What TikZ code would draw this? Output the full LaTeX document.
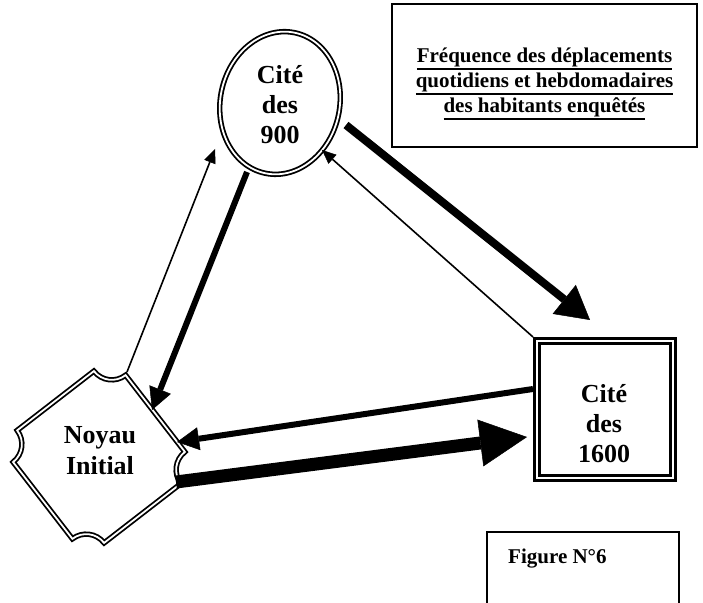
\documentclass[tikz,border=0pt]{standalone}
\usepackage{fontspec}
\setmainfont{Liberation Serif}
\usetikzlibrary{arrows.meta}
\newcommand\myuline[1]{\setbox0\hbox{#1}\rlap{\rule[-6.6pt]{\wd0}{2pt}}\box0}
\begin{document}
\begin{tikzpicture}[x=1pt,y=1pt,
  dbl/.style={draw, double, line width=1.8pt, double distance=1.8pt},
  dblbox/.style={draw, double, line width=2.6pt, double distance=2.4pt, inner sep=0pt},
  boxline/.style={draw, line width=1.5pt},
  lbl/.style={inner sep=0pt, anchor=base},
  bigfont/.style={font=\fontsize{26}{30}\selectfont\bfseries},
  smallfont/.style={font=\fontsize{21}{25}\selectfont\bfseries},
  thinarrow/.style={line width=1.6pt, -{Triangle[length=14pt,width=12pt,line width=0.5pt]}},
  medarrow/.style={line width=6pt, -{Triangle[length=22pt,width=23pt,line width=0.5pt]}},
  thickarrow/.style={line width=8pt, -{Triangle[length=33pt,width=37pt,line width=0.5pt]}},
  hugearrow/.style={line width=13pt, -{Triangle[length=47pt,width=47pt,line width=0.5pt]}}
]
\clip (0,0) rectangle (703,602);

% title box
\draw[boxline] (392,455) rectangle (697,598);
\node[lbl, smallfont] (title) at (544.5,539) {\begin{tabular}[t]{@{}c@{}}\myuline{Fréquence des déplacements}\\\myuline{quotidiens et hebdomadaires}\\\myuline{des habitants enquêtés}\end{tabular}};

% figure box
\draw[boxline] (487,-5) -- (487,70) -- (679,70) -- (679,-5);
\node[lbl, smallfont, anchor=base west] (fig) at (508,38.7) {Figure N°6};

% Cite des 900
\coordinate (e900) at (280,499);
\draw[dbl, rotate around={-12:(e900)}] (e900) ellipse [x radius=59.7, y radius=71.8];
\node[lbl, bigfont] (t900) at (280,518.7) {\begin{tabular}[t]{@{}c@{}}Cité\\des\\900\end{tabular}};

% Cite des 1600
\node[dblbox, minimum width=136.4pt, minimum height=137.4pt] (c1600) at (605,192.5) {};
\node[lbl, bigfont] (t1600) at (604,199) {\begin{tabular}[t]{@{}c@{}}Cité\\des\\1600\end{tabular}};

% Noyau Initial
\begin{scope}[shift={(99,145)}, rotate=37.7]
\draw[dbl] (48.5,71.1) arc[start angle=180,end angle=270,radius=22.6]
  -- (71.1,-48.5) arc[start angle=90,end angle=180,radius=22.6]
  -- (-48.5,-71.1) arc[start angle=0,end angle=90,radius=22.6]
  -- (-71.1,48.5) arc[start angle=270,end angle=360,radius=22.6]
  -- cycle;
\end{scope}
\node[lbl, font=\fontsize{26}{31.7}\selectfont\bfseries] (tnoyau) at (100,158.7) {\begin{tabular}[t]{@{}c@{}}Noyau\\Initial\end{tabular}};

% connector ends
\coordinate (a1s) at (127,230); \coordinate (a1e) at (215,453);
\coordinate (a2s) at (247,430); \coordinate (a2e) at (152,192);
\coordinate (a3s) at (346,477); \coordinate (a3e) at (590,282);
\coordinate (a4s) at (533,265); \coordinate (a4e) at (322,452);
\coordinate (a5s) at (533,213); \coordinate (a5e) at (177,160);
\coordinate (a6s) at (176,120); \coordinate (a6e) at (527,165);

\draw[thinarrow] (a1s) -- (a1e);
\draw[medarrow] (a2s) -- (a2e);
\draw[thickarrow] (a3s) -- (a3e);
\draw[thinarrow] (a4s) -- (a4e);
\draw[medarrow] (a5s) -- (a5e);
\draw[hugearrow] (a6s) -- (a6e);
\end{tikzpicture}
\end{document}
